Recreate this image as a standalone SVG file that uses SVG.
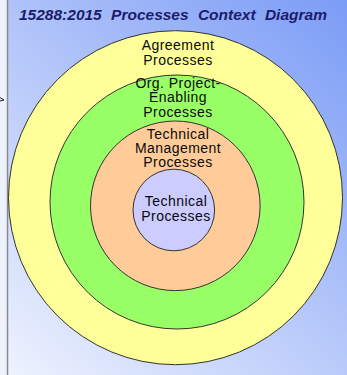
<svg xmlns="http://www.w3.org/2000/svg" width="347" height="375" viewBox="0 0 347 375">
  <defs>
    <linearGradient id="bg" gradientUnits="userSpaceOnUse" x1="8" y1="375" x2="347" y2="0">
      <stop offset="0" stop-color="#eef2fe"/>
      <stop offset="1" stop-color="#7b9cf6"/>
    </linearGradient>
  </defs>
  <style>
    .ring { stroke: #333333; stroke-width: 1; }
    .lbl { font-family: "Liberation Sans", Arial, sans-serif; font-size: 14px; letter-spacing: 0.45px; fill: #0a0a0a; text-anchor: middle; }
    .title { font-family: "Liberation Sans", Arial, sans-serif; font-size: 15.5px; font-weight: bold; font-style: italic; fill: #1c1c6c; word-spacing: 5px; }
  </style>
  <rect x="0" y="0" width="347" height="375" fill="#eef2fc"/>
  <rect x="8" y="0" width="339" height="375" fill="url(#bg)"/>
  <line x1="7.5" y1="0" x2="7.5" y2="375" stroke="#8c8c8c" stroke-width="1.5"/>
  <path d="M0,97.5 L4,100 L0,101" fill="none" stroke="#222" stroke-width="1"/>
  <text class="title" x="19" y="20">15288:2015 Processes Context Diagram</text>

  <g id="agreement">
    <circle class="ring" cx="175.5" cy="197.7" r="167" fill="#ffff99"/>
    <text class="lbl" x="178" y="50">Agreement</text>
    <text class="lbl" x="178" y="64.5">Processes</text>
  </g>
  <g id="org-project-enabling">
    <circle class="ring" cx="177" cy="202" r="127" fill="#99ff66"/>
    <text class="lbl" x="178" y="88">Org. Project-</text>
    <text class="lbl" x="178" y="102">Enabling</text>
    <text class="lbl" x="178" y="116.5">Processes</text>
  </g>
  <g id="technical-management">
    <circle class="ring" cx="175.3" cy="205.8" r="84.8" fill="#ffcc99"/>
    <text class="lbl" x="178" y="138.5">Technical</text>
    <text class="lbl" x="178" y="152.5">Management</text>
    <text class="lbl" x="178" y="166.5">Processes</text>
  </g>
  <g id="technical">
    <circle class="ring" cx="173.8" cy="210" r="40.8" fill="#ccccff"/>
    <text class="lbl" x="176" y="206">Technical</text>
    <text class="lbl" x="176" y="221">Processes</text>
  </g>
  <g id="connectors"/>
</svg>
